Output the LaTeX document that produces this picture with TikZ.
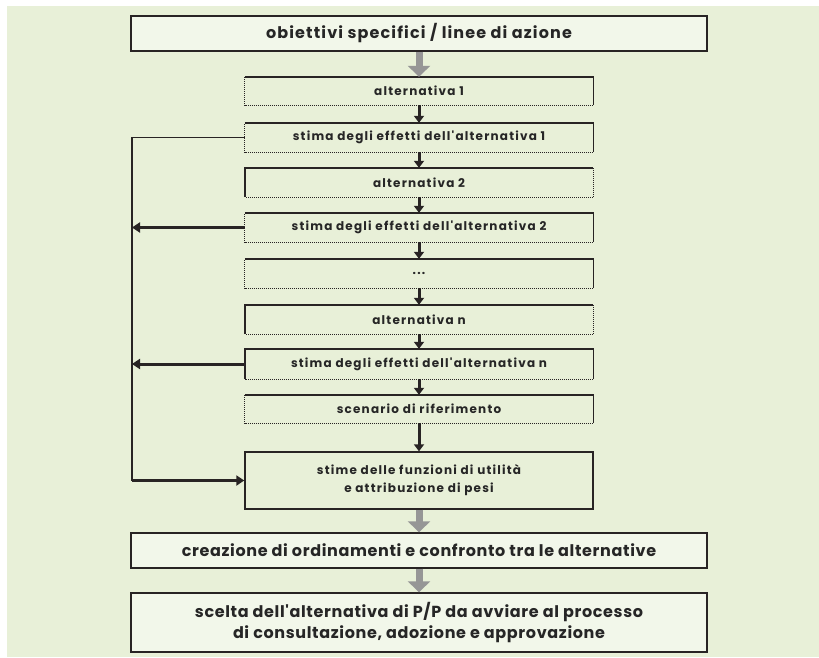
\documentclass[tikz,border=0pt]{standalone}
\usepackage{fontspec}
\setmainfont{Poppins}
\newfontfamily\bigtextfont{Poppins}[LetterSpace=4]
\newfontfamily\headtextfont{Poppins}[LetterSpace=7]
\newfontfamily\smalltextfont{Poppins}[LetterSpace=10]
\usetikzlibrary{arrows.meta}

\definecolor{bggreen}{RGB}{232,240,216}
\definecolor{boxfill}{RGB}{242,247,234}
\definecolor{edge}{RGB}{40,36,36}
\definecolor{flowgray}{RGB}{150,150,150}

\tikzset{
  x=1pt, y=-1pt,
  bigbox/.style={draw=edge, line width=1.4pt, fill=boxfill, minimum width=576pt,
    inner sep=0pt, align=center, font=\bigtextfont\bfseries\fontsize{16}{21}\selectfont, text=black!85},
  smallbox/.style={draw=none, minimum width=348pt, inner sep=0pt, align=center,
    font=\smalltextfont\bfseries\fontsize{12}{18}\selectfont, text=black!85},
  solidside/.style={draw=edge, line width=1.4pt},
  dotside/.style={draw=edge, line width=1.1pt, dash pattern=on 1pt off 1pt},
  grayflow/.style={draw=flowgray, line width=7pt, -{Triangle[width=22pt,length=11pt]}},
  blackflow/.style={draw=edge, line width=3pt, -{Triangle[width=10pt,length=7pt]}},
  thinlink/.style={draw=edge, line width=1.4pt},
  backflow/.style={draw=edge, line width=3pt, -{Triangle[width=10pt,length=8pt]}},
}

\begin{document}
\begin{tikzpicture}
  \useasboundingbox (0,0) rectangle (819,657);
  \fill[bggreen] (7,6) rectangle (819,657);

  % main boxes
  \node[bigbox, minimum height=35pt, font=\headtextfont\bfseries\fontsize{16}{21}\selectfont]
    (top) at (419,33.5) {obiettivi specifici / linee di azione};
  \node[smallbox, minimum height=28pt] (alt1) at (419,91) {alternativa 1};
  \node[smallbox, minimum height=29pt] (est1) at (419,137.5) {stima degli effetti dell'alternativa 1};
  \node[smallbox, minimum height=29pt] (alt2) at (419,182.5) {alternativa 2};
  \node[smallbox, minimum height=29pt] (est2) at (419,227.5) {stima degli effetti dell'alternativa 2};
  \node[smallbox, minimum height=29pt] (dots) at (419,273.5) {...};
  \node[smallbox, minimum height=29pt] (altn) at (419,319.5) {alternativa n};
  \node[smallbox, minimum height=30pt] (estn) at (419,364) {stima degli effetti dell'alternativa n};
  \node[smallbox, minimum height=28pt] (scen) at (419,409) {scenario di riferimento};
  \node[smallbox, minimum height=57pt, draw=edge, line width=1.4pt] (util) at (419,480.5)
    {stime delle funzioni di utilità\\e attribuzione di pesi};
  \node[bigbox, minimum height=35pt] (rank) at (419,550.5)
    {creazione di ordinamenti e confronto tra le alternative};
  \node[bigbox, minimum height=59pt] (choice) at (419,622.5)
    {scelta dell'alternativa di P/P da avviare al processo\\di consultazione, adozione e approvazione};

  % box outlines: solid top and right, dotted bottom and left
  \foreach \b in {alt1,est1,est2,dots,scen}{
    \draw[dotside] (\b.south east) -- (\b.south west) -- (\b.north west);
    \draw[solidside] (\b.north west) -- (\b.north east) -- (\b.south east);
  }
  % solid top and left, dotted bottom and right
  \foreach \b in {alt2,altn}{
    \draw[dotside] (\b.north east) -- (\b.south east) -- (\b.south west);
    \draw[solidside] (\b.south west) -- (\b.north west) -- (\b.north east);
  }
  % solid top, left and right, dotted bottom
  \draw[dotside] (estn.south east) -- (estn.south west);
  \draw[solidside] (estn.south west) -- (estn.north west) -- (estn.north east) -- (estn.south east);

  % main flow
  \draw[grayflow] (top.south) -- (alt1.north);
  \draw[blackflow] (alt1.south) -- (est1.north);
  \draw[blackflow] (est1.south) -- (alt2.north);
  \draw[blackflow] (alt2.south) -- (est2.north);
  \draw[blackflow] (est2.south) -- (dots.north);
  \draw[blackflow] (dots.south) -- (altn.north);
  \draw[blackflow] (altn.south) -- (estn.north);
  \draw[blackflow] (estn.south) -- (scen.north);
  \draw[blackflow] (scen.south) -- (util.north);
  \draw[grayflow] (util.south) -- (rank.north);
  \draw[grayflow] (rank.south) -- (choice.north);

  % feedback of the estimates into the utility functions
  \coordinate (lt) at (132,137.5);
  \coordinate (lb) at (132,480.5);
  \draw[thinlink] (est1.west) -- (lt) -- (lb);
  \draw[backflow] (lb) -- (util.west);
  \draw[backflow] (est2.west) -- (est2.west -| lt);
  \draw[backflow] (estn.west) -- (estn.west -| lt);
\end{tikzpicture}
\end{document}
